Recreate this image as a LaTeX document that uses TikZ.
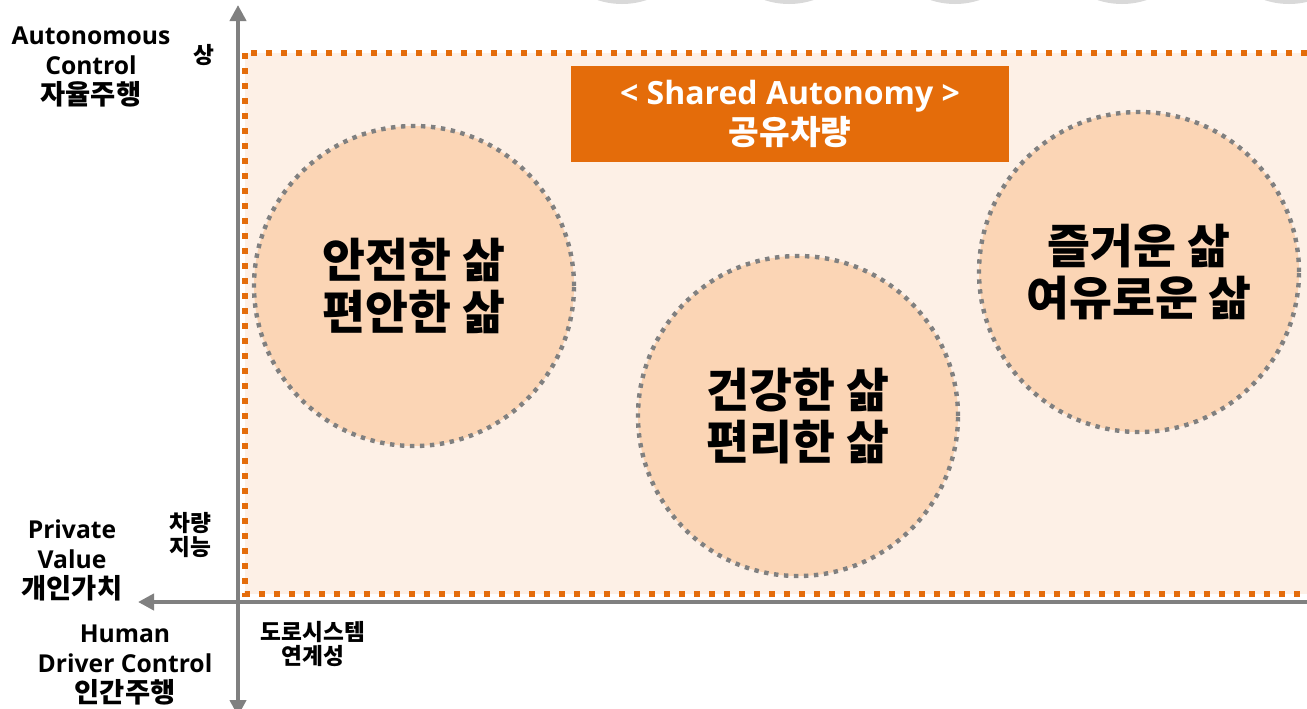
\documentclass[tikz,border=0pt]{standalone}
\usepackage{fontspec}
\setmainfont{Open Sans}
\newfontfamily\kr{Noto Sans CJK KR}
\usetikzlibrary{arrows.meta,positioning,calc}
\definecolor{axisgray}{RGB}{128,128,128}
\definecolor{mainorange}{RGB}{228,108,10}
\definecolor{regionfill}{RGB}{253,240,230}
\definecolor{bubblefill}{RGB}{251,213,181}
\definecolor{topgray}{RGB}{217,217,217}
\newcommand{\krl}[1]{{\kr\fontsize{20.5}{22.5}\selectfont #1}}

\begin{document}
\begin{tikzpicture}[x=0.75pt, y=-0.75pt, >={Triangle[length=12pt,width=12pt]}]
\tikzset{axis/.style={draw=axisgray, line width=3pt},
  region/.style={fill=regionfill, draw=mainorange, line width=4.5pt, dash pattern=on 4.5pt off 6.75pt},
  bubble/.style={circle, fill=bubblefill, draw=axisgray, line width=3.3pt, dash pattern=on 3.3pt off 4.2pt,
    minimum size=240pt, inner sep=0pt, align=center, font=\kr\bfseries\fontsize{35}{39}\selectfont},
  titlebox/.style={fill=mainorange, text=white, minimum width=328.5pt, minimum height=72pt,
    align=center, font=\bfseries\fontsize{24}{30}\selectfont},
  lbl/.style={align=center, font=\bfseries\fontsize{18.5}{22.5}\selectfont},
  tick/.style={align=center, font=\kr\bfseries\fontsize{17}{17.5}\selectfont}}
\clip (0,0) rectangle (1307,708);
\fill[white] (0,0) rectangle (1307,708);
% cut-off shapes at the top edge
\foreach \cx in {622,789,955,1122,1289}
  \fill[topgray] (\cx,-73) circle (77);
% shared autonomy region
\draw[region] (245,53) rectangle (1330,594);
\node[titlebox] (title) at (790,114) {< Shared Autonomy >\\{\kr\fontsize{25}{30}\selectfont 공유차량}};
% bubbles
\node[bubble] (safe) at (414,286) {안전한 삶\\편안한 삶};
\node[bubble] (health) at (798,416) {건강한 삶\\편리한 삶};
\node[bubble] (fun) at (1139,272) {즐거운 삶\\여유로운 삶};
% axes
\coordinate (ytop) at (238,5);
\coordinate (ybot) at (238,716);
\coordinate (xleft) at (138,602);
\coordinate (xright) at (1330,602);
\draw[axis,<->] (ybot) -- (ytop);
\draw[axis,->] (xright) -- (xleft);
% axis labels
\node[lbl] (auto) at (91,67) {Autonomous\\Control\\\krl{자율주행}};
\node[tick] (high) at (204,55) {상};
\node[lbl] (private) at (72,560) {Private\\Value\\\krl{개인가치}};
\node[tick] (intel) at (190,535) {차량\\지능};
\node[lbl] (human) at (125,665) {Human\\Driver Control\\\krl{인간주행}};
\node[tick] (road) at (313,644) {도로시스템\\연계성};
\end{tikzpicture}
\end{document}
